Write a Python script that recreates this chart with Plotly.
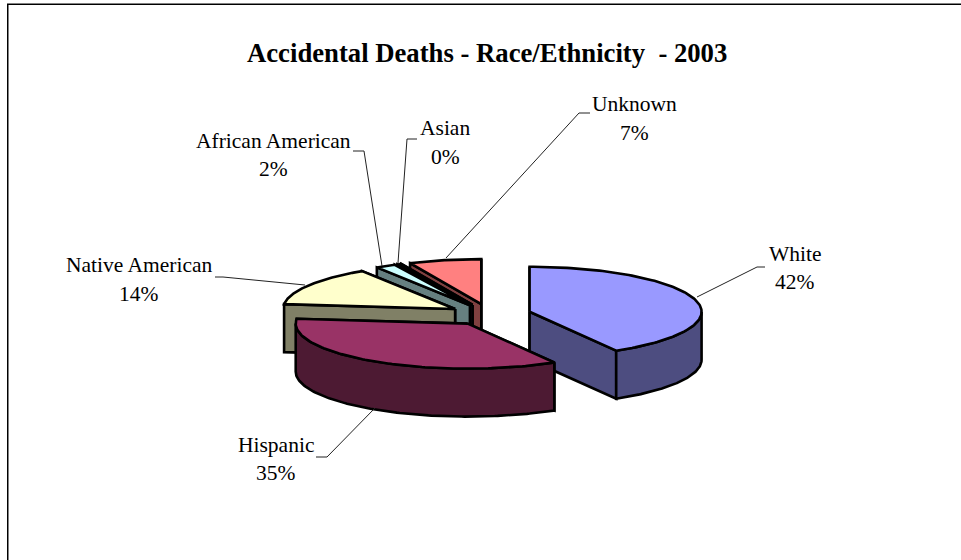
import numpy as np
import plotly.graph_objects as go

categories = ["White", "Hispanic", "Native American", "African American", "Asian", "Unknown"]
values = [41.6, 35.1, 14.2, 1.9, 0.4, 6.8]
top_colors = ["#9999FF", "#993366", "#FFFFCC", "#CCFFFF", "#660066", "#FF8080"]
side_colors = ["#4D4D80", "#4D1A33", "#808066", "#668080", "#330033", "#804040"]
draw_order = [5, 4, 3, 2, 0, 1]

# label anchors (pixel frame of the page)
name_pos = [(795, 254), (276, 445), (139, 265), (273, 141), (445, 128), (634, 104)]
pct_pos = [(795, 282), (276, 473), (139, 294), (273, 169), (445, 157), (634, 133)]
leaders = [
    [(697, 297), (757, 267), (765, 267)],
    [(375, 408), (327, 457), (316, 457)],
    [(305, 285), (223, 277), (215, 277)],
    [(382, 266), (364, 151), (353, 151)],
    [(398, 263), (407, 139), (417, 139)],
    [(446, 258), (579, 113), (590, 113)],
]

CX, CY = 490, 314.6
RX, RY = 172, 45
EXPLODE = 41
DEPTH = 48
LW = 2.6

fig = go.Figure()


def poly(xs, ys, color):
    fig.add_trace(go.Scatter(
        x=list(xs) + [xs[0]], y=list(ys) + [ys[0]], mode="lines", fill="toself",
        fillcolor=color, line=dict(color="black", width=LW, shape="linear"),
        hoverinfo="skip", showlegend=False))


total = sum(values)
edges = np.cumsum([0] + values) / total * 2 * np.pi

for i in draw_order:
    a0, a1 = edges[i], edges[i + 1]
    mid = (a0 + a1) / 2
    cx = CX + EXPLODE * np.sin(mid)
    cy = CY - EXPLODE * np.cos(mid) * RY / RX
    t = np.linspace(a0, a1, 120)
    ex = cx + RX * np.sin(t)
    ey = cy - RY * np.cos(t)
    # radial cut faces
    for a in sorted([a0, a1], key=lambda v: -np.cos(v)):
        px, py = cx + RX * np.sin(a), cy - RY * np.cos(a)
        poly([cx, px, px, cx], [cy, py, py + DEPTH, cy + DEPTH], side_colors[i])
    # outer wall: only the arc facing the viewer
    lo, hi = max(a0, np.pi / 2), min(a1, 3 * np.pi / 2)
    if hi > lo:
        w = np.linspace(lo, hi, 120)
        wx = cx + RX * np.sin(w)
        wy = cy - RY * np.cos(w)
        poly(list(wx) + list(wx[::-1]), list(wy) + list(wy[::-1] + DEPTH), side_colors[i])
    # top surface
    poly([cx] + list(ex), [cy] + list(ey), top_colors[i])

for pts in leaders:
    fig.add_trace(go.Scatter(
        x=[p[0] for p in pts], y=[p[1] for p in pts], mode="lines",
        line=dict(color="#222222", width=1), hoverinfo="skip", showlegend=False))

FONT = "Liberation Serif"
for name, v, np_, pp in zip(categories, values, name_pos, pct_pos):
    fig.add_annotation(x=np_[0], y=np_[1], text=name, showarrow=False,
                       font=dict(family=FONT, size=21.5, color="black"))
    fig.add_annotation(x=pp[0], y=pp[1], text=f"{round(v / total * 100)}%", showarrow=False,
                       font=dict(family=FONT, size=21.5, color="black"))
fig.add_annotation(x=487, y=53, text="<b>Accidental Deaths - Race/Ethnicity  - 2003</b>",
                   showarrow=False, font=dict(family=FONT, size=26.7, color="black"))

# page frame: top and left rules only, black with a grey edge
fig.add_shape(type="line", x0=7, x1=961, y0=3.5, y1=3.5, line=dict(color="#808080", width=1))
fig.add_shape(type="line", x0=7, x1=961, y0=4.5, y1=4.5, line=dict(color="black", width=1))
fig.add_shape(type="line", x0=8.5, x1=8.5, y0=5, y1=560, line=dict(color="#808080", width=1))
fig.add_shape(type="line", x0=7.5, x1=7.5, y0=4, y1=560, line=dict(color="black", width=1))

fig.update_layout(
    width=961, height=560, margin=dict(l=0, r=0, t=0, b=0),
    paper_bgcolor="white", plot_bgcolor="white", showlegend=False,
    xaxis=dict(range=[0, 961], visible=False, fixedrange=True),
    yaxis=dict(range=[560, 0], visible=False, fixedrange=True),
)
fig.write_html("out.html", config={"displayModeBar": False},
               post_script="document.body.style.margin='0';document.body.style.overflow='hidden';")
